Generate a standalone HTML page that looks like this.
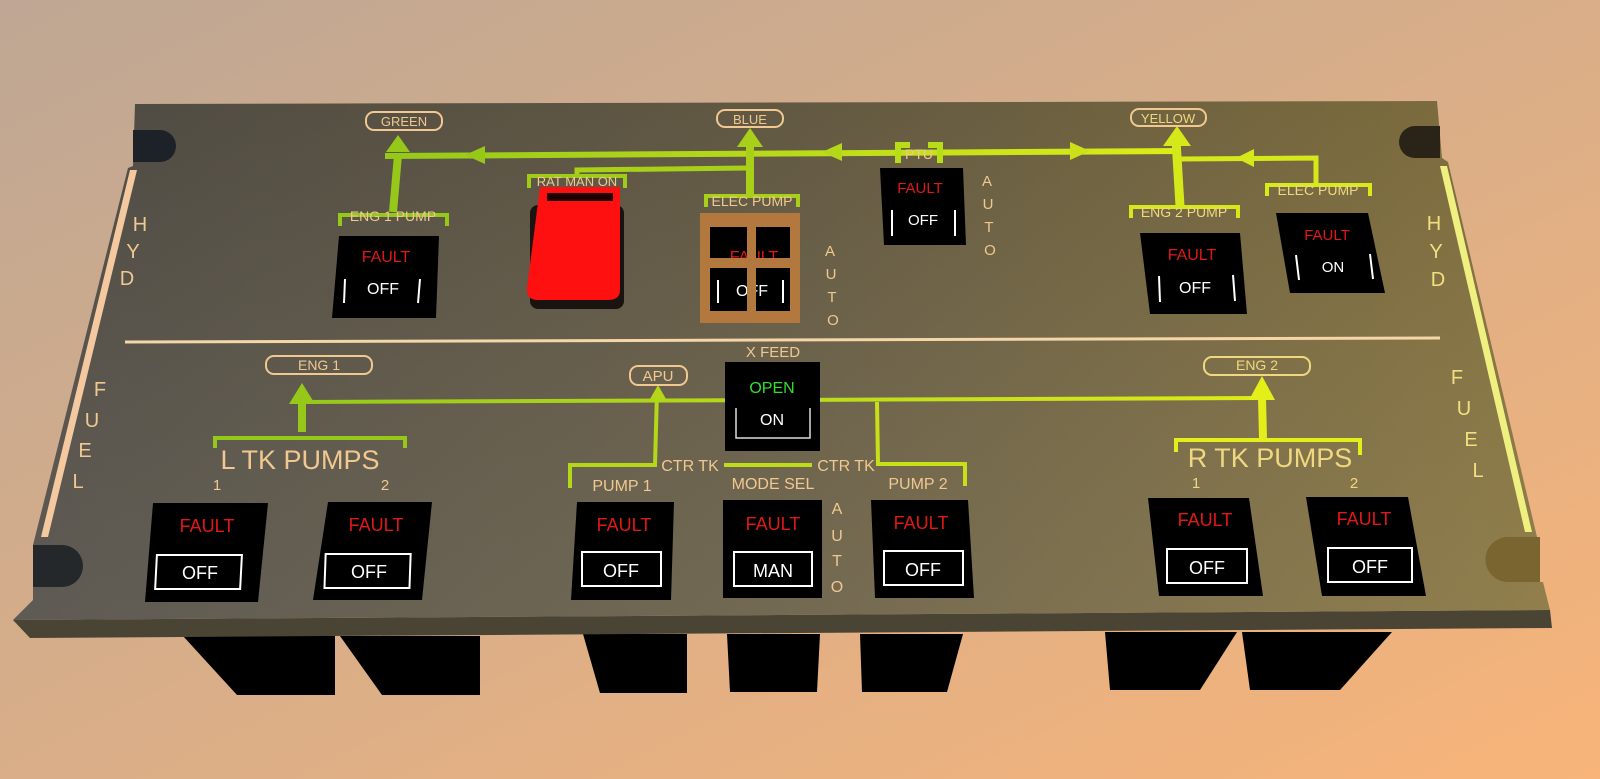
<!DOCTYPE html>
<html><head><meta charset="utf-8"><style>
html,body{margin:0;padding:0;width:1600px;height:779px;overflow:hidden}
svg{display:block}
text{font-family:"Liberation Sans",sans-serif}
</style></head><body>
<svg width="1600" height="779" viewBox="0 0 1600 779" xmlns="http://www.w3.org/2000/svg">
<defs>
<linearGradient id="bg" x1="0" y1="0" x2="1" y2="1">
<stop offset="0" stop-color="#bea794"/><stop offset="0.5" stop-color="#d9ae88"/><stop offset="1" stop-color="#f8b479"/>
</linearGradient>
<linearGradient id="pn" x1="0" y1="0" x2="1" y2="0">
<stop offset="0" stop-color="#545049"/><stop offset="0.5" stop-color="#6a6048"/><stop offset="1" stop-color="#8a7741"/>
</linearGradient>
<linearGradient id="pv" x1="0" y1="0" x2="0" y2="1">
<stop offset="0" stop-color="#000" stop-opacity="0.08"/><stop offset="1" stop-color="#fff" stop-opacity="0.06"/>
</linearGradient>
<linearGradient id="ln" x1="0" y1="0" x2="1" y2="0">
<stop offset="0" stop-color="#96c81a"/><stop offset="1" stop-color="#dcec18"/>
</linearGradient>
</defs>
<rect width="1600" height="779" fill="url(#bg)"/>
<g fill="#000">
<polygon points="183,636 335,636 335,695 237,695"/>
<polygon points="340,636 480,636 480,695 382,695"/>
<polygon points="583,634 687,634 687,693 600,693"/>
<polygon points="727,634 820,634 817,692 730,692"/>
<polygon points="860,634 963,634 947,692 862,692"/>
<polygon points="1105,632 1237,632 1200,690 1110,690"/>
<polygon points="1242,632 1392,632 1340,690 1250,690"/>
</g>
<polygon points="13,620 1550,610 1552,628 30,638" fill="#4a4434"/>
<polygon points="135,104 1437,101 1442,158 1448,162 1537,537 1537,582 1543,582 1550,610 13,620 33,600 33,545 128,168 133,166" fill="url(#pn)"/>
<polygon points="135,104 1437,101 1442,158 1448,162 1537,537 1537,582 1543,582 1550,610 13,620 33,600 33,545 128,168 133,166" fill="url(#pv)"/>
<path d="M133,130 L160,130 A16,16 0 0 1 160,162 L133,162Z" fill="#1d2228"/>
<path d="M1440,126 L1415,126 A16,16 0 0 0 1415,158 L1440,158Z" fill="#2a2418"/>
<path d="M33,545 L62,545 A21,21 0 0 1 62,587 L33,587Z" fill="#24282a"/>
<path d="M1540,537 L1508,537 A22,22 0 0 0 1508,582 L1540,582Z" fill="#7a6430"/>
<polygon points="130,170 137,170 48,537 41,537" fill="#f5c9a0"/>
<polygon points="1440,166 1447,166 1532,532 1525,532" fill="#f0f080"/>
<line x1="125" y1="342" x2="1440" y2="338" stroke="#f5d6a8" stroke-width="3"/>
<g fill="#f0c890" font-size="20" text-anchor="middle">
<text x="140" y="231">H</text><text x="133" y="258">Y</text><text x="127" y="285">D</text>
<text x="100" y="396">F</text><text x="92" y="427">U</text><text x="85" y="457">E</text><text x="78" y="488">L</text>
<text x="1434" y="230" fill="#f0e080">H</text><text x="1436" y="258" fill="#f0e080">Y</text><text x="1438" y="286" fill="#f0e080">D</text>
<text x="1457" y="384" fill="#f0e080">F</text><text x="1464" y="415" fill="#f0e080">U</text><text x="1471" y="446" fill="#f0e080">E</text><text x="1478" y="477" fill="#f0e080">L</text>
</g>
<line x1="385" y1="156" x2="1180" y2="151" stroke="url(#ln)" stroke-width="6"/>
<g fill="none" stroke-width="6">
<line x1="398" y1="155" x2="393" y2="212" stroke="#96c81a" stroke-width="8"/>
<line x1="750" y1="135" x2="750" y2="196" stroke="#a8d018" stroke-width="8"/>
<path d="M577,176 L577,170 L748,168" stroke="#a8d018" stroke-width="5"/>
<line x1="1176" y1="140" x2="1180" y2="206" stroke="#d4e81a" stroke-width="9"/>
<path d="M1180,159 L1316,158 L1316,185" stroke="#d4e81a" stroke-width="5"/>
</g>
<g>
<polygon points="398,135 386,152 410,152" fill="#96c81a"/>
<polygon points="750,128 737,147 763,147" fill="#a8d018"/>
<polygon points="1177,126 1163,146 1191,146" fill="#d4e81a"/>
<polygon points="465,155 485,146 485,164" fill="#96c81a"/>
<polygon points="822,152 842,143 842,161" fill="#b4d818"/>
<polygon points="1090,151 1070,142 1070,160" fill="#ccdf18"/>
<polygon points="1236,158 1254,149 1254,167" fill="#d4e81a"/>
</g>
<g fill="none" stroke-width="4">
<path d="M340,226 L340,215 L447,215 L447,226" stroke="#96c81a"/>
<path d="M529,188 L529,176 L625,176 L625,188" stroke="#a0cc18"/>
<path d="M706,207 L706,196 L798,196 L798,207" stroke="#a8d018"/>
<path d="M1131,218 L1131,207 L1238,207 L1238,218" stroke="#d4e81a"/>
<path d="M1267,196 L1267,185 L1370,185 L1370,196" stroke="#d8ea18"/>
<path d="M898,163 L898,145 L910,145 M940,163 L940,145 L928,145" stroke="#b8dc18" stroke-width="6"/>
</g>
<g fill="none" stroke="#f0c890" stroke-width="2">
<rect x="366" y="112" width="76" height="18" rx="8"/>
<rect x="717" y="110" width="66" height="17" rx="8"/>
<rect x="1131" y="109" width="75" height="17" rx="8"/>
</g>
<g fill="#f0c890" font-size="13" text-anchor="middle">
<text x="404" y="126">GREEN</text><text x="750" y="124">BLUE</text><text x="1168" y="123" fill="#f0d880">YELLOW</text>
<text x="919" y="159" font-size="14">PTU</text>
<text x="393" y="221" font-size="14">ENG 1 PUMP</text>
<text x="577" y="186" font-size="13">RAT MAN ON</text>
<text x="752" y="206" font-size="14">ELEC PUMP</text>
<text x="1184" y="217" font-size="14" fill="#f0d880">ENG 2 PUMP</text>
<text x="1318" y="195" font-size="14" fill="#f0d880">ELEC PUMP</text>
<g font-size="15"><text x="987" y="186">A</text><text x="988" y="209">U</text><text x="989" y="232">T</text><text x="990" y="255">O</text>
<text x="830" y="256">A</text><text x="831" y="279">U</text><text x="832" y="302">T</text><text x="833" y="325">O</text></g>
</g>
<g>
<polygon points="339,236 439,236 436,318 332,318" fill="#000"/>
<text x="386" y="262" fill="#e01818" font-size="16" text-anchor="middle">FAULT</text>
<text x="383" y="294" fill="#fff" font-size="16" text-anchor="middle">OFF</text>
<path d="M345,279 L344,303 M420,279 L418,303" stroke="#fff" stroke-width="2"/>
<polygon points="880,168 963,168 966,245 884,245" fill="#000"/>
<text x="920" y="193" fill="#e01818" font-size="15" text-anchor="middle">FAULT</text>
<text x="923" y="225" fill="#fff" font-size="15" text-anchor="middle">OFF</text>
<path d="M892,210 L892,236 M955,210 L955,236" stroke="#fff" stroke-width="2"/>
<polygon points="1140,233 1240,233 1247,314 1150,314" fill="#000"/>
<text x="1192" y="260" fill="#e01818" font-size="16" text-anchor="middle">FAULT</text>
<text x="1195" y="293" fill="#fff" font-size="16" text-anchor="middle">OFF</text>
<path d="M1159,276 L1160,302 M1233,275 L1235,301" stroke="#fff" stroke-width="2"/>
<polygon points="1276,213 1368,213 1385,293 1290,293" fill="#000"/>
<text x="1327" y="240" fill="#e01818" font-size="15" text-anchor="middle">FAULT</text>
<text x="1333" y="272" fill="#fff" font-size="15" text-anchor="middle">ON</text>
<path d="M1296,255 L1299,280 M1370,254 L1373,279" stroke="#fff" stroke-width="2"/>
</g>
<rect x="708" y="222" width="88" height="96" fill="#000"/>
<text x="754" y="262" fill="#e01818" font-size="16" text-anchor="middle">FAULT</text>
<text x="752" y="296" fill="#fff" font-size="16" text-anchor="middle">OFF</text>
<path d="M718,280 L718,303 M783,280 L783,303" stroke="#fff" stroke-width="2"/>
<g fill="#b3783e">
<rect x="700" y="213" width="100" height="14"/>
<rect x="700" y="213" width="10" height="110"/>
<rect x="790" y="213" width="10" height="110"/>
<rect x="747" y="213" width="9" height="110"/>
<rect x="700" y="258" width="100" height="10"/>
<rect x="700" y="311" width="100" height="12"/>
</g>
<rect x="530" y="205" width="94" height="104" rx="8" fill="#1a1410"/>
<path d="M540,187 L620,187 L620,290 Q620,300 608,300 L538,300 Q526,300 527,288 Z" fill="#ff1010"/>
<rect x="547" y="193" width="66" height="8" fill="#200000"/>
<line x1="305" y1="402" x2="1262" y2="398" stroke="url(#ln)" stroke-width="4"/>
<g fill="none">
<line x1="302" y1="403" x2="302" y2="432" stroke="#96c81a" stroke-width="8"/>
<path d="M215,448 L215,438 L405,438 L405,448" stroke="#96c81a" stroke-width="4"/>
<path d="M570,488 L570,465 L655,465 L657,392" stroke="#b4d818" stroke-width="4"/>
<line x1="724" y1="465" x2="812" y2="465" stroke="#c0dc18" stroke-width="4"/>
<path d="M877,402 L878,464 L965,464 L965,486" stroke="#c8e018" stroke-width="4"/>
<line x1="1262" y1="398" x2="1263" y2="438" stroke="#e4ee18" stroke-width="8"/>
<path d="M1176,452 L1176,440 L1360,440 L1360,455" stroke="#e4ee18" stroke-width="4"/>
</g>
<polygon points="302,383 289,404 315,404" fill="#96c81a"/>
<polygon points="658,385 650,399 666,399" fill="#b4d818"/>
<polygon points="1262,376 1249,400 1275,400" fill="#e4ee18"/>
<g fill="none" stroke="#f0c890" stroke-width="2">
<rect x="266" y="356" width="106" height="18" rx="8"/>
<rect x="630" y="366" width="57" height="19" rx="8"/>
<rect x="1204" y="357" width="106" height="18" rx="8" stroke="#f0d880"/>
</g>
<g fill="#f0c890" text-anchor="middle">
<text x="319" y="370" font-size="14">ENG 1</text>
<text x="658" y="381" font-size="15">APU</text>
<text x="1257" y="370" font-size="14" fill="#f0d880">ENG 2</text>
<text x="300" y="469" font-size="27">L TK PUMPS</text>
<text x="1270" y="467" font-size="27" fill="#f0d880">R TK PUMPS</text>
<text x="217" y="490" font-size="15">1</text><text x="385" y="490" font-size="15">2</text>
<text x="1196" y="488" font-size="15" fill="#f0d880">1</text><text x="1354" y="488" font-size="15" fill="#f0d880">2</text>
<text x="773" y="357" font-size="15">X FEED</text>
<text x="690" y="471" font-size="16">CTR TK</text><text x="846" y="471" font-size="16">CTR TK</text>
<text x="622" y="491" font-size="16">PUMP  1</text>
<text x="773" y="489" font-size="16">MODE SEL</text>
<text x="918" y="489" font-size="16">PUMP 2</text>
<g font-size="16"><text x="837" y="514">A</text><text x="837" y="541">U</text><text x="837" y="566">T</text><text x="837" y="592">O</text></g>
</g>
<rect x="725" y="362" width="95" height="89" fill="#000"/>
<text x="772" y="393" fill="#30e030" font-size="16" text-anchor="middle">OPEN</text>
<text x="772" y="425" fill="#fff" font-size="16" text-anchor="middle">ON</text>
<path d="M736,408 L736,438 L810,438 L810,408" stroke="#ddd" stroke-width="1.5" fill="none"/>
<g>
<polygon points="153,503 268,503 258,602 145,602" fill="#000"/>
<text x="207" y="532" fill="#e01818" font-size="18" text-anchor="middle">FAULT</text>
<rect x="158" y="555" width="85" height="34" fill="none" stroke="#fff" stroke-width="2" transform="skewX(-3) translate(28,0)"/>
<text x="200" y="579" fill="#fff" font-size="18" text-anchor="middle">OFF</text>
<polygon points="328,502 432,502 422,600 313,600" fill="#000"/>
<text x="376" y="531" fill="#e01818" font-size="18" text-anchor="middle">FAULT</text>
<rect x="327" y="554" width="85" height="34" fill="none" stroke="#fff" stroke-width="2" transform="skewX(-2) translate(18,0)"/>
<text x="369" y="578" fill="#fff" font-size="18" text-anchor="middle">OFF</text>
<polygon points="577,502 674,502 671,600 571,600" fill="#000"/>
<text x="624" y="531" fill="#e01818" font-size="18" text-anchor="middle">FAULT</text>
<rect x="582" y="552" width="79" height="34" fill="none" stroke="#fff" stroke-width="2"/>
<text x="621" y="577" fill="#fff" font-size="18" text-anchor="middle">OFF</text>
<rect x="723" y="500" width="99" height="98" fill="#000"/>
<text x="773" y="530" fill="#e01818" font-size="18" text-anchor="middle">FAULT</text>
<rect x="734" y="552" width="78" height="34" fill="none" stroke="#fff" stroke-width="2"/>
<text x="773" y="577" fill="#fff" font-size="18" text-anchor="middle">MAN</text>
<polygon points="871,500 968,500 974,598 875,598" fill="#000"/>
<text x="921" y="529" fill="#e01818" font-size="18" text-anchor="middle">FAULT</text>
<rect x="884" y="551" width="79" height="34" fill="none" stroke="#fff" stroke-width="2"/>
<text x="923" y="576" fill="#fff" font-size="18" text-anchor="middle">OFF</text>
<polygon points="1148,498 1249,498 1263,596 1159,596" fill="#000"/>
<text x="1205" y="526" fill="#e01818" font-size="18" text-anchor="middle">FAULT</text>
<rect x="1167" y="549" width="80" height="34" fill="none" stroke="#fff" stroke-width="2"/>
<text x="1207" y="574" fill="#fff" font-size="18" text-anchor="middle">OFF</text>
<polygon points="1306,497 1408,497 1426,596 1322,596" fill="#000"/>
<text x="1364" y="525" fill="#e01818" font-size="18" text-anchor="middle">FAULT</text>
<rect x="1328" y="548" width="84" height="34" fill="none" stroke="#fff" stroke-width="2"/>
<text x="1370" y="573" fill="#fff" font-size="18" text-anchor="middle">OFF</text>
</g>
</svg>
</body></html>
